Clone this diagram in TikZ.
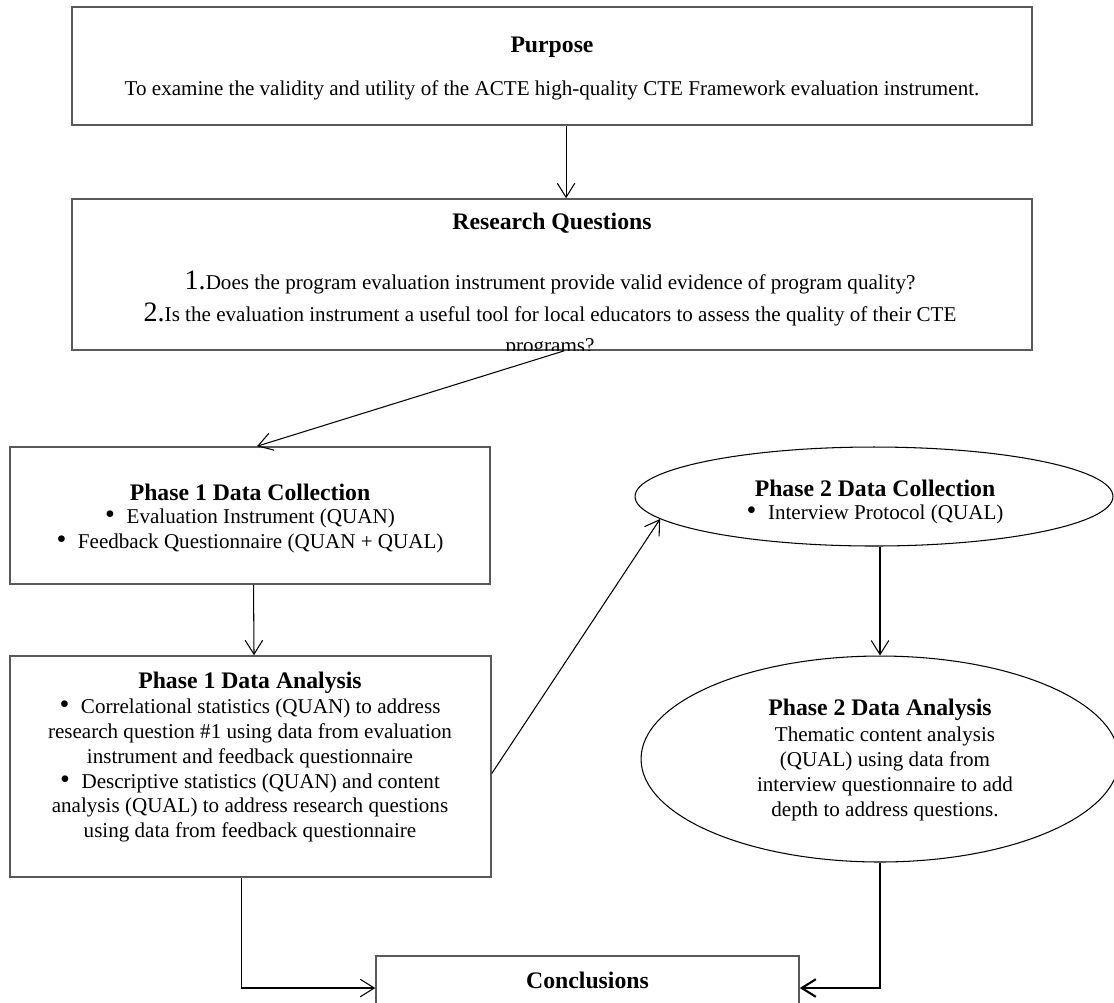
\documentclass[tikz,border=0pt]{standalone}
\usepackage{fontspec}
\setmainfont{Liberation Serif}
\usepackage{tikz}
\usetikzlibrary{arrows.meta, positioning, shapes.geometric}
\newcommand{\qnum}[1]{{\fontsize{16}{18}\selectfont #1.}}
\newcommand{\bul}{{\fontsize{16}{14}\selectfont\textbullet}\hspace{0.55em}}

\begin{document}
\begin{tikzpicture}[
x=0.02cm, y=-0.02cm,
>={Straight Barb[length=8pt,width=10pt]},
line width=0.6pt,
box/.style={draw=black!65, line width=0.9pt, rectangle, inner sep=0pt},
oval/.style={draw, ellipse, inner sep=0pt, line width=0.6pt},
title/.style={font=\fontsize{13.5}{16}\selectfont\bfseries},
body/.style={font=\fontsize{12}{14.2}\selectfont, align=center},
]
\useasboundingbox (0,0) rectangle (1114,1002);

%% purpose and questions
% nodes
\node[box, minimum width=19.2cm, minimum height=2.36cm] (purpose) at (552,66) {};
\node[title] (purpose-t) at (552,47) {Purpose};
\node[body] (purpose-b) at (552,90) {To examine the validity and utility of the ACTE high-quality CTE Framework evaluation instrument.};

\node[box, minimum width=19.2cm, minimum height=3.02cm] (rq) at (552,274.5) {};
\node[title] (rq-t) at (552,223) {Research Questions};
\begin{scope}
\clip (rq.south west) rectangle (rq.north east);
\node[body, font=\fontsize{12}{18}\selectfont] (rq-b) at (550,314) {\qnum{1}Does the program evaluation instrument provide valid evidence of program quality?\\
\qnum{2}Is the evaluation instrument a useful tool for local educators to assess the quality of their CTE\\
programs?};
\end{scope}

%% phase 1
% nodes
\node[box, minimum width=9.6cm, minimum height=2.74cm] (p1c) at (250,515.5) {};
\node[title] (p1c-t) at (250,492) {Phase 1 Data Collection};
\node[body] (p1c-b) at (250,530.5) {\bul Evaluation Instrument (QUAN)\\ \bul Feedback Questionnaire (QUAN + QUAL)};

\node[box, minimum width=9.62cm, minimum height=4.42cm] (p1a) at (250.5,766.5) {};
\node[title] (p1a-t) at (250,683) {Phase 1 Data Analysis};
\node[body] (p1a-b) at (250,770.5) {\bul Correlational statistics (QUAN) to address\\
research question \#1 using data from evaluation\\
instrument and feedback questionnaire\\
\bul Descriptive statistics (QUAN) and content\\
analysis (QUAL) to address research questions\\
using data from feedback questionnaire};

%% phase 2
% nodes
\node[oval, minimum width=9.56cm, minimum height=1.98cm] (p2c) at (874,496.5) {};
\node[title] (p2c-t) at (875,488) {Phase 2 Data Collection};
\node[body] (p2c-b) at (875,514) {\bul Interview Protocol (QUAL)};

\node[oval, minimum width=9.56cm, minimum height=4.12cm] (p2a) at (880,759) {};
\node[title] (p2a-t) at (880,710) {Phase 2 Data Analysis};
\node[body] (p2a-b) at (885,774) {Thematic content analysis\\
(QUAL) using data from\\
interview questionnaire to add\\
depth to address questions.};

%% conclusions
\node[box, minimum width=8.46cm, minimum height=1.28cm] (concl) at (587.5,988) {};
\node[title] (concl-t) at (587.5,980) {Conclusions};

% arrows
\draw[->] ([xshift=8pt]purpose.south) -- ([xshift=8pt]rq.north);
\draw[->] ([xshift=7pt]rq.south) -- ([xshift=4pt]p1c.north);
\draw[->] ([xshift=2pt]p1c.south) -- ([xshift=2pt]p1a.north);
\draw[->] ([yshift=-4pt]p1a.east) -- (p2c.186);
\draw[->] (p2c.south -| p2a.north) -- (p2a.north);
\draw[->] ([xshift=-5pt]p1a.south) |- (concl.west);
\draw[->, line width=1.2pt] (p2a.south) |- (concl.east);
\end{tikzpicture}
\end{document}
